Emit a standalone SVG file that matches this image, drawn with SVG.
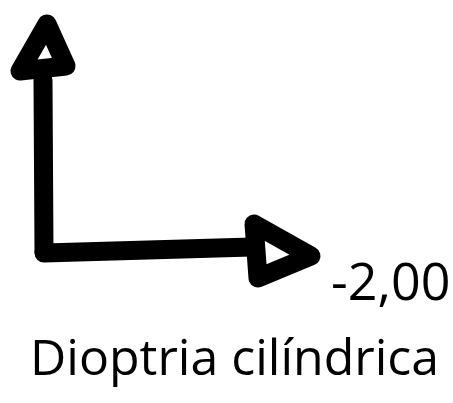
<svg xmlns="http://www.w3.org/2000/svg" width="453" height="403" viewBox="0 0 453 403">
<style>
.ln{fill:none;stroke:#000;stroke-width:19;stroke-linecap:round;stroke-linejoin:round}
.hd{fill:#fff;stroke:#000;stroke-width:19;stroke-linejoin:round}
.t{font-family:"Open Sans",sans-serif;fill:#000}
</style>
<g id="connectors">
<path class="ln" d="M44,252 L43,80"/>
<path class="ln" d="M44,253 L252,247"/>
</g>
<g id="arrow-up">
<path class="hd" d="M47,24 L20,71 L66,66 Z"/>
</g>
<g id="arrow-right">
<path class="hd" d="M254,224 L311,256 L258,278 Z"/>
</g>
<g id="label-value">
<text class="t" x="331" y="300" font-size="52">-2,00</text>
</g>
<g id="label-title">
<text class="t" x="30" y="375" font-size="50">Dioptria cilíndrica</text>
</g>
</svg>
